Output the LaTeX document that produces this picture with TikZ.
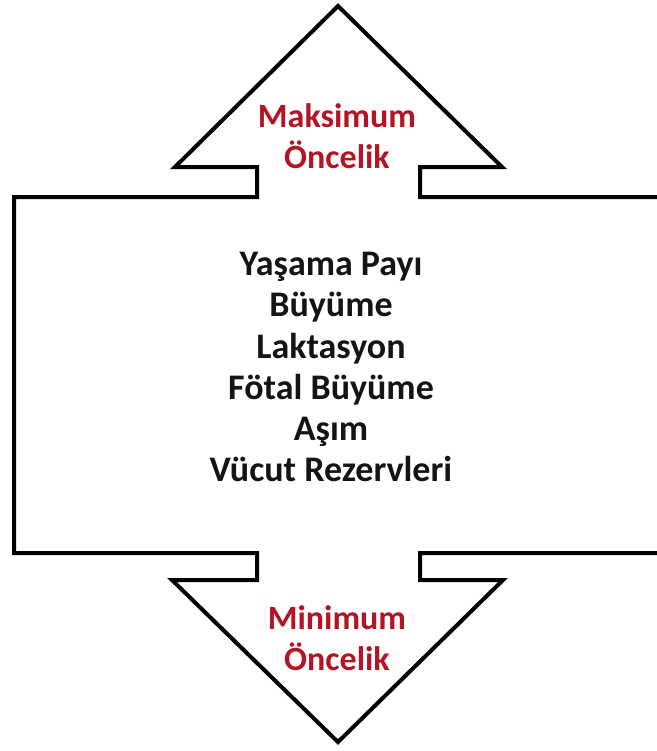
\documentclass[tikz,border=0pt]{standalone}
\usepackage{fontspec}
\setmainfont{Carlito}
\definecolor{prioRed}{RGB}{180,20,36}
\definecolor{bodyText}{RGB}{20,20,20}
\tikzset{
  outline/.style={draw=black, line width=3pt, line join=miter},
  itemtext/.style={font=\bfseries\fontsize{27}{30.8}\selectfont, text=bodyText, align=center, inner sep=0pt},
  priotext/.style={font=\bfseries\fontsize{25.5}{30.8}\selectfont, text=prioRed, align=center, inner sep=0pt}
}
\begin{document}
\begin{tikzpicture}[x=0.75pt,y=-0.75pt]
  \fill[white] (0,0) rectangle (657,751);
  \useasboundingbox (0,0) rectangle (657,751);
  % double-headed block arrow: box with an up and a down arrow head
  \begin{scope}
    \clip (0,0) rectangle (657,751);
    \draw[outline] (338,6) -- (502,167) -- (420,167) -- (420,197) -- (680,197)
      -- (680,553) -- (420,553) -- (420,580) -- (503,580) -- (338,742)
      -- (172,580) -- (257,580) -- (257,553) -- (14,553) -- (14,197)
      -- (257,197) -- (257,167) -- (175,167) -- cycle;
  \end{scope}
  \node[priotext] (top) at (337,136) {Maksimum\\Öncelik};
  \node[priotext] (bottom) at (337,638) {Minimum\\Öncelik};
  \node[itemtext] (items) at (331,367) {Yaşama Payı\\Büyüme\\Laktasyon\\Fötal Büyüme\\Aşım\\Vücut Rezervleri};
\end{tikzpicture}
\end{document}
